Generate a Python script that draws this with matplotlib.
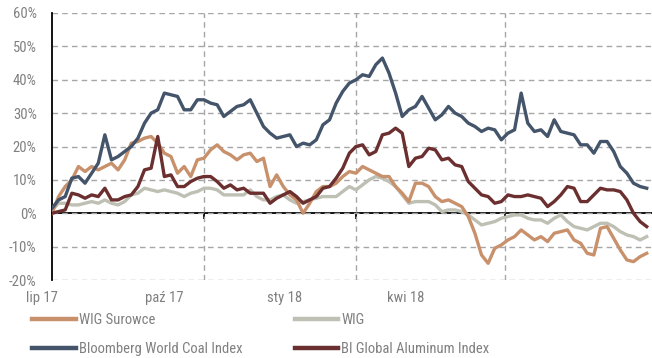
import pandas as pd
import matplotlib
matplotlib.use("Agg")
import matplotlib.pyplot as plt
import matplotlib.dates as mdates
import matplotlib.transforms as mtransforms
from matplotlib.ticker import FuncFormatter, FixedLocator

plt.rcParams['font.family'] = ['Roboto Condensed', 'Liberation Sans Narrow', 'Roboto', 'DejaVu Sans']

# stopa zwrotu od 1 lipca 2017, co 4 dni (%)
dates = pd.date_range('2017-07-01', periods=91, freq='4D')

wig_surowce = [0, 5, 8, 10, 14, 12.5, 14, 13, 14, 15, 13, 16, 21, 21.5, 22.5, 23, 21, 18, 17, 12, 14, 11, 16,
               16.5, 19, 20.5, 18.5, 17.5, 16, 17.5, 18, 15.5, 16.5, 8, 11.5, 8, 5.5, 4, 0, 3, 6.5, 8, 8, 9, 11, 12.5,
               12, 14, 13, 12, 11, 11, 8, 6, 3.5, 9, 9, 8, 5, 3.5, 4, 3, 2, -1, -6, -12.5, -15, -10.5, -9.5,
               -8, -7, -5, -6.5, -8, -7, -8.5, -6, -5.5, -5, -8, -9, -12, -12.5, -4.5, -4, -7.5, -11, -14, -14.5, -13, -12]

wig = [1, 3, 3, 2.5, 2.5, 3, 3.5, 3, 4, 3, 2.5, 3.5, 5.5, 6, 7.5, 7, 6.5, 7, 6.5, 6, 5, 6, 6.5,
       7.5, 7.5, 7, 5.5, 5.5, 5.5, 5.5, 7, 5, 4, 4, 5, 5.5, 4, 3, 3.5, 4, 4.5, 5, 5, 5, 6.5, 8,
       7, 8.5, 10, 11, 10.5, 9.5, 8, 5.5, 3, 3.5, 3.5, 3.5, 2.5, 0.5, 1, 1, 0.5, -0.5, -2, -3.5, -3, -2.5, -1.5,
       -1, -0.5, -0.5, -1.5, -2, -2, -3, -1.5, -0.5, -2.5, -4, -4.5, -5, -4, -3, -3, -4, -5.5, -6.5, -7, -8, -7]

coal = [1.5, 4, 5, 10.5, 11, 9, 12, 15, 23.5, 16, 17, 18.5, 20, 22.5, 27, 30, 31, 36, 35.5, 35, 31, 31, 34,
        34, 33, 32.5, 29, 30.5, 32, 32.5, 34, 30, 26, 24, 22.5, 23, 23.5, 20, 21, 20.5, 22, 26.5, 28, 33, 36.5, 39,
        40, 41.5, 41, 44.5, 46.5, 42, 36, 29, 31, 32, 35, 31.5, 28, 29.5, 32, 30, 29, 27, 26, 24.5, 25.5, 25, 22,
        24, 25, 36, 27, 24.5, 25, 23, 28, 24.5, 24, 23.5, 20.5, 20.5, 18, 21.5, 21.5, 18.5, 14, 12, 9, 8, 7.5]

aluminum = [0, 0.5, 1, 6, 5.5, 4.5, 5.5, 5, 7.5, 4, 4, 5, 5.5, 8, 13, 13.5, 23, 11, 11.5, 8, 8, 9.5, 10.5,
            11, 11, 9.5, 7.5, 8.5, 7, 7.5, 6, 6, 6, 3, 4.5, 5.5, 6.5, 5, 3, 4, 5, 7.5, 8, 10.5, 13.5, 18,
            20, 20.5, 17.5, 18.5, 23.5, 24, 25.5, 24, 14, 16.5, 17, 19.5, 19, 16, 16.5, 14.5, 14, 9.5, 7.5, 5.5, 5, 3, 3.5,
            5.5, 5, 5, 5.5, 5, 4.5, 2, 3.5, 5.5, 8, 7.5, 3.5, 3.5, 5.5, 7.5, 7, 7, 6.5, 4, 0, -2.5, -4]

series_names = ['WIG Surowce', 'WIG', 'Bloomberg World Coal Index', 'BI Global Aluminum Index']
series_colors = ['#c8916c', '#bfc0b4', '#44546a', '#6b2f2f']
legend_order = ['WIG Surowce', 'Bloomberg World Coal Index', 'WIG', 'BI Global Aluminum Index']

grid_dates = pd.to_datetime(['2017-10-01', '2018-01-01', '2018-04-01'])
label_dates = pd.to_datetime(['2017-06-25', '2017-09-07', '2017-11-19', '2018-01-31'])
month_labels = ['lip 17', 'paź 17', 'sty 18', 'kwi 18']

text_col = '#808080'
grid_col = '#a6a6a6'
fs = 10.5

fig = plt.figure(figsize=(6.52, 3.58), dpi=100)
ax = fig.add_axes([52 / 652, 1 - 280 / 358, 600 / 652, 267 / 358])

lines = {}
for name, vals, col, z in zip(series_names, [wig_surowce, wig, coal, aluminum], series_colors, [3, 2, 5, 4]):
    lines[name], = ax.plot(dates, vals, color=col, lw=2.4, zorder=z, solid_joinstyle='round')

start = pd.Timestamp('2017-07-01')
ax.set_xlim(start, start + pd.Timedelta(days=363.2))
ax.set_ylim(-20, 60)

ax.set_yticks(range(-20, 61, 10))
ax.yaxis.set_major_formatter(FuncFormatter(lambda v, p: f"{v:.0f}%"))
ax.yaxis.grid(True, ls=(0, (4, 3)), color=grid_col, lw=1)
ax.tick_params(axis='y', length=0, pad=11, labelsize=fs, labelcolor=text_col)

ax.xaxis.set_major_locator(FixedLocator(mdates.date2num(grid_dates)))
ax.xaxis.set_major_formatter(FuncFormatter(lambda v, p: ''))
ax.xaxis.grid(True, which='major', ls=(0, (4, 3)), color=grid_col, lw=1)
ax.tick_params(axis='x', which='both', length=0)

# podpisy miesięcy (pierwszy wypada poza zakresem osi)
trans = mtransforms.blended_transform_factory(ax.transData, ax.transAxes)
for d, lab in zip(label_dates, month_labels):
    ax.text(mdates.date2num(d), -0.043, lab, transform=trans, ha='center', va='top',
            fontsize=fs, color=text_col, clip_on=False)

for s in ['top', 'right', 'bottom']:
    ax.spines[s].set_visible(False)
ax.spines['left'].set_color('black')
ax.spines['left'].set_linewidth(1.3)

# linia zera z krótkimi kreskami na granicach kwartałów
zero = ax.secondary_xaxis(0.25)
zero.set_xticks(mdates.date2num(grid_dates))
zero.set_xticklabels([])
zero.tick_params(length=4, width=1.3, direction='out', color='black')
zero.spines['bottom'].set_linewidth(1.3)
zero.spines['bottom'].set_color('black')

handles = [lines[n] for n in legend_order]
leg = fig.legend(handles, legend_order, ncol=2, loc='upper left',
                 bbox_to_anchor=(32 / 652, 1 - 313 / 358), frameon=False, fontsize=fs,
                 handlelength=3.0, handletextpad=0.2, columnspacing=3.6, labelspacing=1.05,
                 labelcolor=text_col, borderaxespad=0, borderpad=0)
for l in leg.get_lines():
    l.set_linewidth(3.2)

fig.savefig('out.png', dpi=100)
